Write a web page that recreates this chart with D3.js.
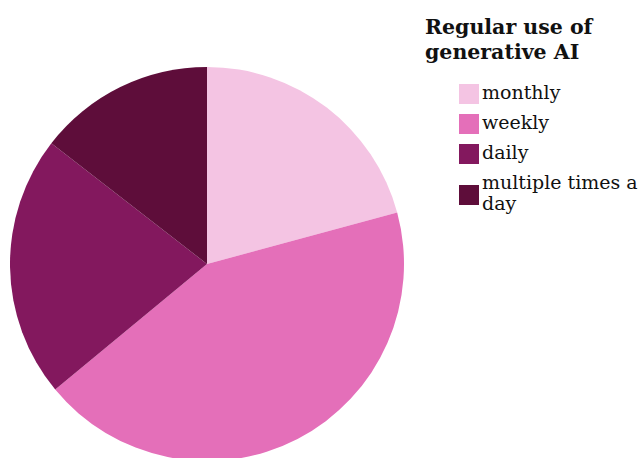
<!DOCTYPE html>
<html>
<head>
<meta charset="utf-8">
<script src="https://cdn.jsdelivr.net/npm/d3@7"></script>
<style>
  body { margin: 0; background: #fff; }
  svg { display: block; }
  .legend text { font-family: "DejaVu Serif", "Liberation Serif", serif; fill: #111; }
</style>
</head>
<body>
<div id="chart"></div>
<script>
// chart data
var categories = ["monthly", "weekly", "daily", "multiple times a day"];
var values = [20.8, 43.2, 21.5, 14.5];
var colors = ["#f4c4e3", "#e46fb9", "#83185e", "#5e0d3a"];
var title = ["Regular use of", "generative AI"];

var width = 643, height = 458;
var cx = 207, cy = 264, radius = 197;

var svg = d3.select("#chart").append("svg")
    .attr("width", width)
    .attr("height", height);

var pie = d3.pie().sort(null).value(function(d) { return d; });
var arc = d3.arc().innerRadius(0).outerRadius(radius);

var color = d3.scaleOrdinal().domain(categories).range(colors);

// slices
svg.append("g")
    .attr("transform", "translate(" + cx + "," + cy + ")")
  .selectAll("path")
  .data(pie(values))
  .enter().append("path")
    .attr("d", arc)
    .attr("fill", function(d, i) { return color(categories[i]); });

// legend
var legend = svg.append("g").attr("class", "legend");

legend.selectAll("text.title")
  .data(title)
  .enter().append("text")
    .attr("class", "title")
    .attr("x", 425)
    .attr("y", function(d, i) { return 34 + i * 25; })
    .style("font-size", "20.5px")
    .style("font-weight", "bold")
    .text(function(d) { return d; });

var rows = [
  {name: categories[0], lines: ["monthly"], y: 84},
  {name: categories[1], lines: ["weekly"], y: 114},
  {name: categories[2], lines: ["daily"], y: 144},
  {name: categories[3], lines: ["multiple times a", "day"], y: 185}
];

var item = legend.selectAll("g.item")
  .data(rows)
  .enter().append("g")
    .attr("class", "item")
    .attr("transform", function(d) { return "translate(459," + d.y + ")"; });

item.append("rect")
    .attr("width", 20)
    .attr("height", 20)
    .attr("fill", function(d) { return color(d.name); });

item.each(function(d) {
  var t = d3.select(this).append("text")
      .style("font-size", "19px");
  var y0 = d.lines.length > 1 ? 4 : 15;
  d.lines.forEach(function(l, i) {
    t.append("tspan")
      .attr("x", 23)
      .attr("y", y0 + i * 21)
      .text(l);
  });
});
</script>
</body>
</html>
